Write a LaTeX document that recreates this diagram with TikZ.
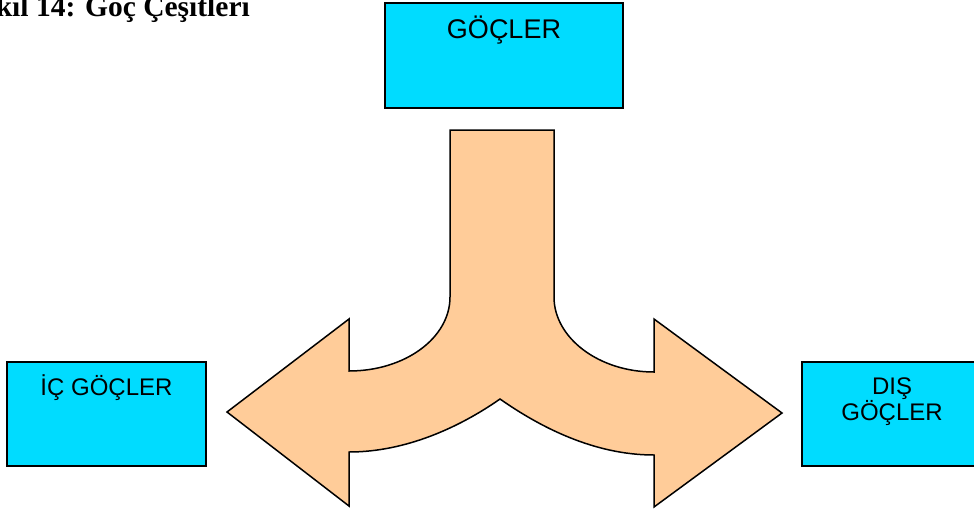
\documentclass[tikz,border=0pt]{standalone}
\usepackage{fontspec}
\setmainfont{Liberation Sans}
\newfontfamily\titlefont{Liberation Serif}
\definecolor{boxcyan}{RGB}{0,220,255}
\definecolor{peach}{RGB}{255,204,153}
\begin{document}
\begin{tikzpicture}[x=1pt,y=-1pt,
  catbox/.style={draw=black, line width=2pt, fill=boxcyan, rectangle, inner sep=0pt},
  boxtext/.style={inner sep=0pt, font=\fontsize{24}{26}\selectfont, align=center},
  arrowshape/.style={draw=black, line width=1.5pt, fill=peach, line join=miter}]
\useasboundingbox (0,0) rectangle (974,512);
\clip (0,0) rectangle (974,512);
% title
\node[anchor=base east, inner sep=0pt, font=\titlefont\bfseries\fontsize{29.5}{31}\selectfont] (title) at (250,16) {Şekil 14: Göç Çeşitleri};
% boxes
\node[catbox, minimum width=238pt, minimum height=105pt] (top) at (504,55.5) {};
\node[boxtext, anchor=base, font=\fontsize{27}{29}\selectfont] (toptext) at ([yshift=-36pt]top.north) {GÖÇLER};
\node[catbox, minimum width=199pt, minimum height=104pt] (left) at (106.5,414) {};
\node[boxtext, anchor=base] (lefttext) at ([yshift=-34pt]left.north) {İÇ GÖÇLER};
\node[catbox, minimum width=180pt, minimum height=104pt] (right) at (892,414) {};
\node[boxtext, anchor=north] (righttext) at (892,378) {DIŞ\\GÖÇLER};
% split arrow
\draw[arrowshape] (450,130) -- (554,130) -- (554,297)
  .. controls (554,338) and (599,372) .. (654,372)
  -- (654,319) -- (782,413) -- (654,507) -- (654,455)
  .. controls (594,455) and (540,427) .. (500,399)
  .. controls (460,427) and (406,452) .. (349,452)
  -- (349,506) -- (227,412) -- (349,319) -- (349,371)
  .. controls (405,371) and (450,338) .. (450,297) -- cycle;
\end{tikzpicture}
\end{document}
